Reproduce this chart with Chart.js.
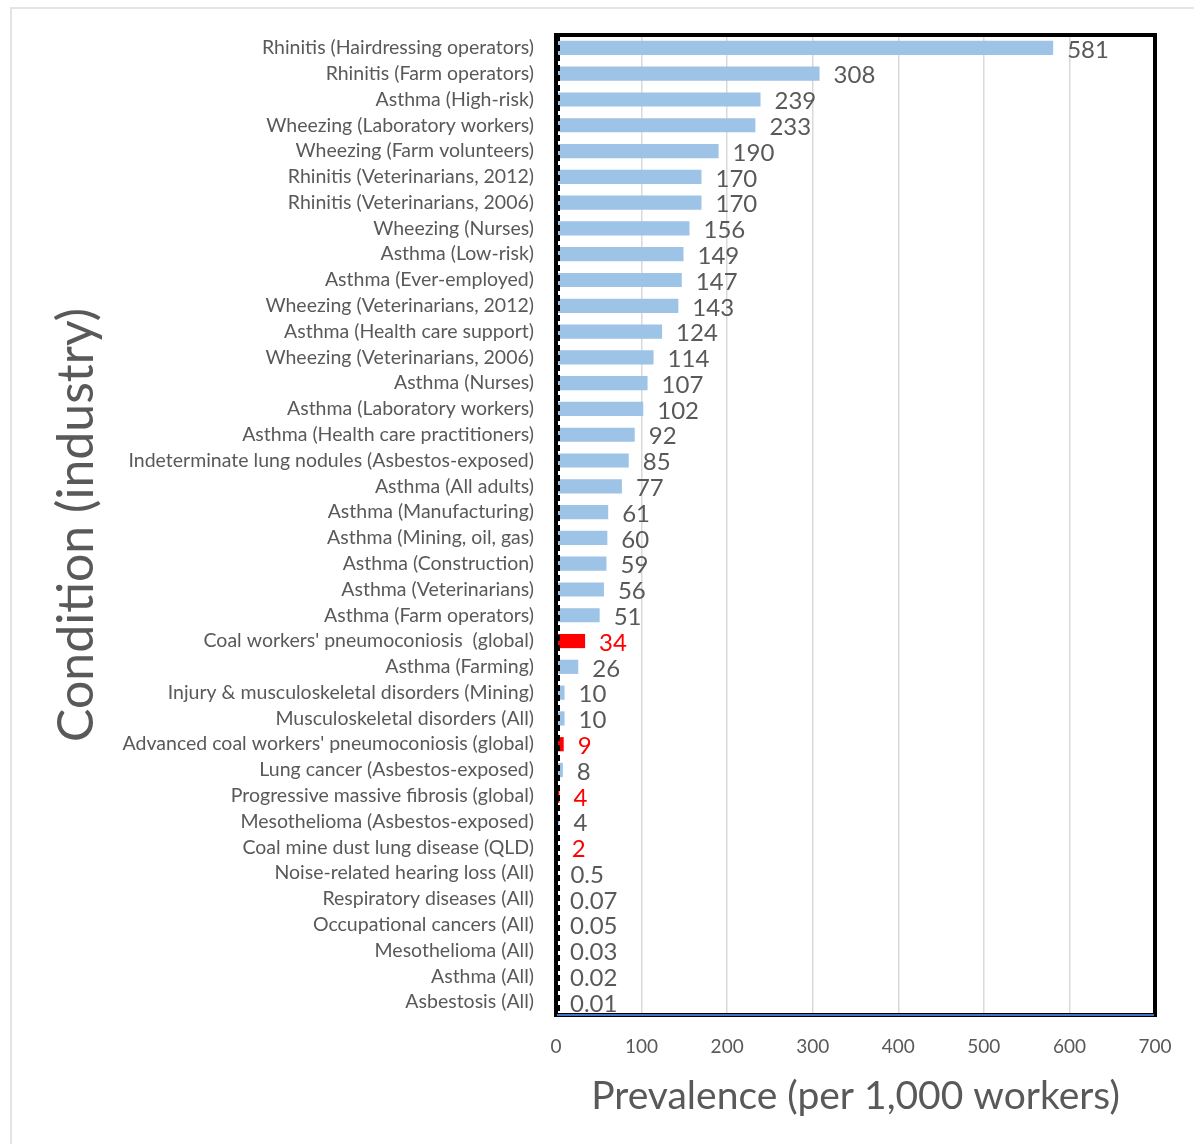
<!DOCTYPE html>
<html>
<head>
<meta charset="utf-8">
<script src="https://cdn.jsdelivr.net/npm/chart.js@4.4.1/dist/chart.umd.min.js"></script>
<style>
  html, body { margin: 0; padding: 0; background: #fff; }
  #frame { position: absolute; left: 10px; top: 7px; right: 0; bottom: 0; border-left: 2px solid #e4e4e4; border-top: 2px solid #e4e4e4; }
  #wrap { position: absolute; left: 0; top: 0; width: 1194px; height: 1144px; }
</style>
</head>
<body>
<div id="frame"></div>
<div id="wrap"><canvas id="prevChart" width="1194" height="1144"></canvas></div>
<script>
const conditions = [
  'Rhinitis (Hairdressing operators)',
  'Rhinitis (Farm operators)',
  'Asthma (High-risk)',
  'Wheezing (Laboratory workers)',
  'Wheezing (Farm volunteers)',
  'Rhinitis (Veterinarians, 2012)',
  'Rhinitis (Veterinarians, 2006)',
  'Wheezing (Nurses)',
  'Asthma (Low-risk)',
  'Asthma (Ever-employed)',
  'Wheezing (Veterinarians, 2012)',
  'Asthma (Health care support)',
  'Wheezing (Veterinarians, 2006)',
  'Asthma (Nurses)',
  'Asthma (Laboratory workers)',
  'Asthma (Health care practitioners)',
  'Indeterminate lung nodules (Asbestos-exposed)',
  'Asthma (All adults)',
  'Asthma (Manufacturing)',
  'Asthma (Mining, oil, gas)',
  'Asthma (Construction)',
  'Asthma (Veterinarians)',
  'Asthma (Farm operators)',
  "Coal workers' pneumoconiosis  (global)",
  'Asthma (Farming)',
  'Injury & musculoskeletal disorders (Mining)',
  'Musculoskeletal disorders (All)',
  "Advanced coal workers' pneumoconiosis (global)",
  'Lung cancer (Asbestos-exposed)',
  'Progressive massive fibrosis (global)',
  'Mesothelioma (Asbestos-exposed)',
  'Coal mine dust lung disease (QLD)',
  'Noise-related hearing loss (All)',
  'Respiratory diseases (All)',
  'Occupational cancers (All)',
  'Mesothelioma (All)',
  'Asthma (All)',
  'Asbestosis (All)'
];

const prevalence = [581, 308, 239, 233, 190, 170, 170, 156, 149, 147, 143, 124, 114, 107, 102, 92, 85, 77,
  61, 60, 59, 56, 51, 34, 26, 10, 10, 9, 8, 4, 4, 2, 0.5, 0.07, 0.05, 0.03, 0.02, 0.01];

// coal-related conditions are highlighted in red
const coalConditions = [
  "Coal workers' pneumoconiosis  (global)",
  "Advanced coal workers' pneumoconiosis (global)",
  'Progressive massive fibrosis (global)',
  'Coal mine dust lung disease (QLD)'
];

const xTicks = [0, 100, 200, 300, 400, 500, 600, 700];

const FONT = 'Lato, "Open Sans", sans-serif';
const GREY = '#595959';
const BLUE = '#9dc3e6';
const RED = '#ff0000';

const isCoal = conditions.map(c => coalConditions.includes(c));

const labelPlugin = {
  id: 'valueLabels',
  afterDatasetsDraw(chart) {
    const ctx = chart.ctx;
    const meta = chart.getDatasetMeta(0);
    ctx.save();
    ctx.font = '24px ' + FONT;
    ctx.textBaseline = 'middle';
    ctx.textAlign = 'left';
    meta.data.forEach((bar, i) => {
      ctx.fillStyle = isCoal[i] ? RED : GREY;
      ctx.fillText(String(prevalence[i]), bar.x + 14, bar.y + 2);
    });
    ctx.restore();
  }
};

const framePlugin = {
  id: 'plotFrame',
  afterDraw(chart) {
    const ctx = chart.ctx;
    const a = chart.chartArea;
    const x0 = chart.scales.x.getPixelForValue(0);
    ctx.save();
    // dashed line at zero
    ctx.strokeStyle = '#000';
    ctx.lineWidth = 2;
    ctx.setLineDash([6, 4]);
    ctx.beginPath();
    ctx.moveTo(x0 + 3, a.top);
    ctx.lineTo(x0 + 3, a.bottom);
    ctx.stroke();
    ctx.setLineDash([]);
    // thick black frame
    ctx.lineWidth = 4;
    ctx.strokeRect(a.left, a.top, a.right - a.left, a.bottom - a.top);
    // blue bottom edge
    ctx.strokeStyle = '#4472c4';
    ctx.lineWidth = 2;
    ctx.beginPath();
    ctx.moveTo(a.left + 1, a.bottom);
    ctx.lineTo(a.right - 1, a.bottom);
    ctx.stroke();
    ctx.restore();
  }
};

new Chart(document.getElementById('prevChart'), {
  type: 'bar',
  data: {
    labels: conditions,
    datasets: [{
      data: prevalence,
      backgroundColor: isCoal.map(c => c ? RED : BLUE),
      barPercentage: 0.55,
      categoryPercentage: 1
    }]
  },
  options: {
    indexAxis: 'y',
    responsive: false,
    animation: false,
    layout: { padding: { top: 35, right: 39, left: 0, bottom: 20 } },
    plugins: { legend: { display: false }, tooltip: { enabled: false } },
    scales: {
      x: {
        min: 0,
        max: 700,
        afterBuildTicks: s => { s.ticks = xTicks.map(v => ({ value: v })); },
        afterFit: s => { s.height = 109; },
        grid: { color: '#d9d9d9', lineWidth: 1.5, drawTicks: false },
        border: { display: false },
        ticks: { color: GREY, font: { family: FONT, size: 19 }, padding: 20, maxRotation: 0 },
        title: {
          display: true,
          text: 'Prevalence (per 1,000 workers)',
          color: GREY,
          font: { family: FONT, size: 39 },
          padding: { top: 10 }
        }
      },
      y: {
        afterFit: s => { s.width = 556; },
        grid: { display: false },
        border: { display: false },
        ticks: { color: GREY, font: { family: FONT, size: 19.5 }, padding: 14, autoSkip: false },
        title: {
          display: true,
          text: 'Condition (industry)',
          color: GREY,
          font: { family: FONT, size: 50 },
          padding: { top: 47 }
        }
      }
    }
  },
  plugins: [labelPlugin, framePlugin]
});
</script>
</body>
</html>
